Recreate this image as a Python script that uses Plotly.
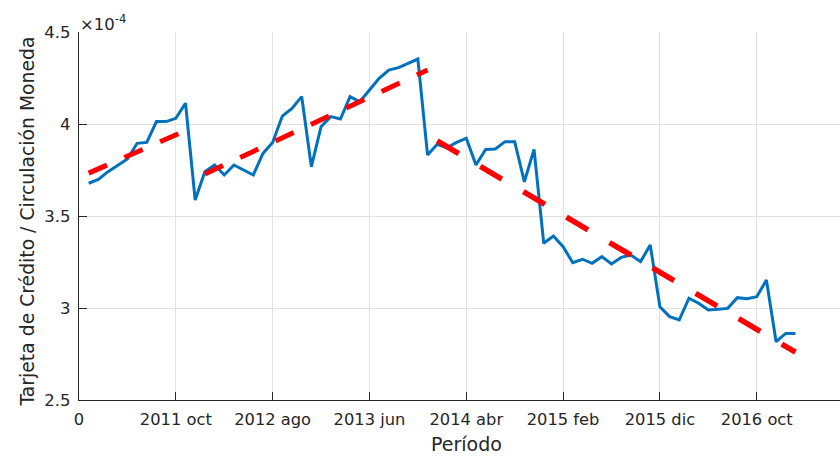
import plotly.graph_objects as go

# Monthly index (1 = 2011 ene) and ratio values (units of 1e-4)
period_index = list(range(1, 75))
ratio_e4 = [
    3.678, 3.699, 3.741, 3.777, 3.810, 3.895, 3.900, 4.013, 4.013, 4.031,
    4.113, 3.587, 3.741, 3.777, 3.723, 3.777, 3.750, 3.723, 3.840, 3.900,
    4.043, 4.085, 4.149, 3.768, 3.985, 4.040, 4.027, 4.149, 4.121, 4.185,
    4.248, 4.293, 4.306, 4.330, 4.353, 3.832, 3.890, 3.870, 3.900, 3.922,
    3.777, 3.862, 3.864, 3.904, 3.904, 3.686, 3.862, 3.352, 3.391, 3.333,
    3.246, 3.265, 3.243, 3.279, 3.239, 3.275, 3.288, 3.252, 3.342, 3.007,
    2.953, 2.935, 3.053, 3.026, 2.989, 2.993, 2.998, 3.056, 3.050, 3.061,
    3.152, 2.817, 2.862, 2.862,
]

# Linear trend segments (start/end of each period)
trend1_x = [1, 12]
trend1_y = [3.733, 3.987]
trend2_x = [13, 36]
trend2_y = [3.728, 4.293]
trend3_x = [37, 74]
trend3_y = [3.908, 2.760]

x_tick_vals = [0, 10, 20, 30, 40, 50, 60, 70]
x_tick_text = ["0", "2011 oct", "2012 ago", "2013 jun", "2014 abr",
               "2015 feb", "2015 dic", "2016 oct"]
y_tick_vals = [2.5, 3.0, 3.5, 4.0, 4.5]
y_tick_text = ["2.5", "3", "3.5", "4", "4.5"]

FONT = "DejaVu Sans"
DARK = "#262626"
GRID = "#e2e2e2"

fig = go.Figure()
fig.add_trace(go.Scatter(x=period_index, y=ratio_e4, mode="lines",
                         line=dict(color="#0072BD", width=3)))
fig.add_trace(go.Scatter(x=trend1_x, y=trend1_y, mode="lines",
                         line=dict(color="#FF0000", width=5, dash="20px,19px")))
fig.add_trace(go.Scatter(x=trend2_x, y=trend2_y, mode="lines",
                         line=dict(color="#FF0000", width=5, dash="20px,19px")))
fig.add_trace(go.Scatter(x=trend3_x, y=trend3_y, mode="lines",
                         line=dict(color="#FF0000", width=5.5, dash="25px,25px")))

fig.update_layout(
    width=840, height=458,
    margin=dict(l=79, r=0, t=32, b=58, autoexpand=False),
    paper_bgcolor="white", plot_bgcolor="white",
    showlegend=False,
    font=dict(family=FONT, color=DARK),
    xaxis=dict(
        range=[0, 78.6], tickvals=x_tick_vals, ticktext=x_tick_text,
        ticks="inside", ticklen=8, tickcolor=DARK, tickwidth=1,
        showline=True, linecolor=DARK, linewidth=1.3,
        showgrid=True, gridcolor=GRID, gridwidth=1, zeroline=False,
        tickfont=dict(family=FONT, size=16.3, color=DARK),
        ticklabelstandoff=4, automargin=False,
    ),
    yaxis=dict(
        range=[2.5, 4.5], tickvals=y_tick_vals, ticktext=y_tick_text,
        ticks="inside", ticklen=8, tickcolor=DARK, tickwidth=1,
        showline=True, linecolor=DARK, linewidth=1.3,
        showgrid=True, gridcolor=GRID, gridwidth=1, zeroline=False,
        tickfont=dict(family=FONT, size=16.5, color=DARK),
        ticklabelstandoff=4, automargin=False,
    ),
    annotations=[
        dict(text="Período", x=40, xref="x", y=0, yref="paper",
             yanchor="middle", xanchor="center", yshift=-44, showarrow=False,
             font=dict(family=FONT, size=19, color=DARK)),
        dict(text="Tarjeta de Crédito / Circulación Moneda", x=0, xref="paper",
             y=0.5, yref="paper", xanchor="center", yanchor="middle",
             xshift=-52.5, yshift=-6, textangle=-90, showarrow=False,
             font=dict(family=FONT, size=18.8, color=DARK)),
        dict(text="×10<sup>-4</sup>", x=0, xref="paper", y=1, yref="paper",
             xanchor="left", yanchor="bottom", xshift=-1, yshift=-4,
             showarrow=False, font=dict(family=FONT, size=16.5, color=DARK)),
    ],
)

fig.write_html(
    "out.html",
    config={"displayModeBar": False},
    post_script="document.body.style.margin='0';document.body.style.overflow='hidden';",
)
